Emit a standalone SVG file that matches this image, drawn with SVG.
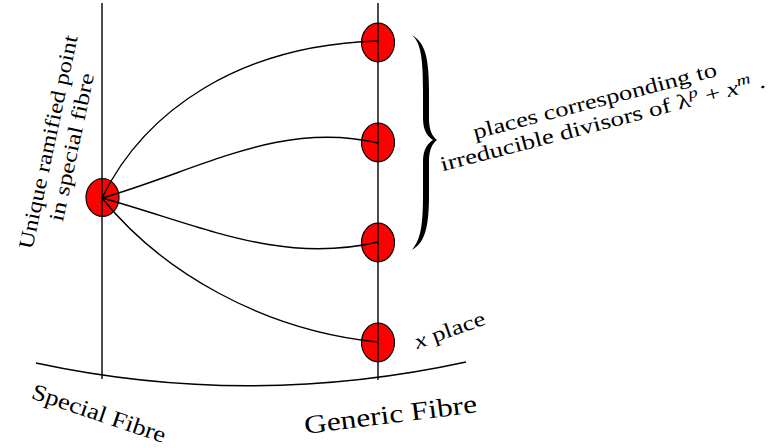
<svg xmlns="http://www.w3.org/2000/svg" width="776" height="448" viewBox="0 0 776 448">
<style>
.ln{fill:none;stroke:#000;stroke-width:1.4}
.pt{fill:#ff0000;stroke:#000;stroke-width:1.2}
.t{font-family:"Liberation Serif","DejaVu Serif",serif;fill:#000;text-anchor:middle}
.it{font-style:italic}
</style>
<rect width="776" height="448" fill="#fff"/>
<g id="special-point">
<ellipse class="pt" cx="102.5" cy="197.5" rx="16.5" ry="19"/>
</g>
<g id="place-1"><ellipse class="pt" cx="378" cy="42.5" rx="16.5" ry="19.3"/></g>
<g id="place-2"><ellipse class="pt" cx="378" cy="142.5" rx="16.5" ry="19.3"/></g>
<g id="place-3"><ellipse class="pt" cx="378" cy="242.5" rx="16.5" ry="19.3"/></g>
<g id="x-place"><ellipse class="pt" cx="378" cy="342.5" rx="16.5" ry="19.3"/></g>
<g id="connectors">
<path class="ln" d="M102,3 V379"/>
<path class="ln" d="M378,3 V380"/>
<path class="ln" d="M36,363 Q250,409 466,362"/>
<path class="ln" d="M102,198 C145,110 240,45 378,41"/>
<path class="ln" d="M102,198 C200,170 280,120 378,143"/>
<path class="ln" d="M102,198 C200,225 280,265 378,242"/>
<path class="ln" d="M102,198 C160,270 260,330 378,342"/>
</g>
<g id="brace">
<path fill="#000" d="M412,35 C424,42 429,55 429,90 L429,118 C429,130 432,136 437,140 C432,144 429,150 429,162 L429,195 C429,230 424,243 412,250 C420,240 423,228 423,195 L423,162 C423,150 427,144 433,140 C427,136 423,130 423,118 L423,90 C423,55 420,42 412,35 Z"/>
</g>
<g id="label-ramified" transform="translate(55,143.5) rotate(-78)">
<text class="t" x="0" y="0" font-size="21" textLength="218" lengthAdjust="spacingAndGlyphs">Unique ramified point</text>
<text class="t" x="0" y="24" font-size="21" textLength="151" lengthAdjust="spacingAndGlyphs">in special fibre</text>
</g>
<g id="label-places" transform="translate(596.5,107.5) rotate(-14.6)">
<text class="t" x="0" y="0" font-size="21" textLength="251" lengthAdjust="spacingAndGlyphs">places corresponding to</text>
<text class="t" x="2" y="23" font-size="21" textLength="335" lengthAdjust="spacingAndGlyphs">irreducible divisors of λ<tspan class="it" dy="-8" font-size="15">p</tspan><tspan dy="8"> + </tspan><tspan class="it">x</tspan><tspan class="it" dy="-8" font-size="15">m</tspan><tspan dy="8"> .</tspan></text>
</g>
<g id="label-generic" transform="translate(391.5,423) rotate(-7.2)">
<text class="t" x="0" y="0" font-size="26" textLength="174" lengthAdjust="spacingAndGlyphs">Generic Fibre</text>
</g>
<g id="label-special" transform="translate(96.5,420.5) rotate(18.7)">
<text class="t" x="0" y="0" font-size="23" textLength="140" lengthAdjust="spacingAndGlyphs">Special Fibre</text>
</g>
<g id="label-x" transform="translate(452,336.5) rotate(-19.7)">
<text class="t" x="0" y="0" font-size="21" textLength="74" lengthAdjust="spacingAndGlyphs"><tspan class="it">x</tspan> place</text>
</g>
</svg>
